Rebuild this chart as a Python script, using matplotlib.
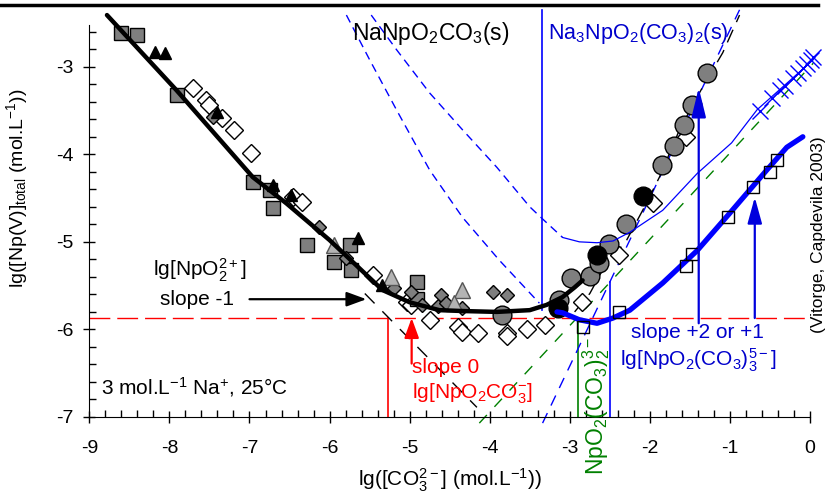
import matplotlib.pyplot as plt
from matplotlib.lines import Line2D
from matplotlib.ticker import MultipleLocator

plt.rcParams['font.family'] = ['Liberation Sans', 'DejaVu Sans']
plt.rcParams['mathtext.fontset'] = 'custom'
plt.rcParams['mathtext.rm'] = 'Liberation Sans'
plt.rcParams['mathtext.it'] = 'Liberation Sans:italic'
plt.rcParams['mathtext.bf'] = 'Liberation Sans:bold'
plt.rcParams['lines.scale_dashes'] = False
plt.rcParams['axes.unicode_minus'] = False

# --- experimental points, lg[CO3 2-] vs lg[Np(V)] ---
sq_gray_x = [-8.61, -8.40, -7.91, -6.95, -6.75, -6.71, -6.28, -5.94, -5.75, -5.73, -4.91, -4.91]
sq_gray_y = [-2.62, -2.64, -3.32, -4.32, -4.41, -4.61, -5.04, -5.23, -5.04, -5.32, -5.46, -5.65]

tri_black_x = [-8.18, -8.06, -7.40, -6.71, -6.48, -5.65, -5.34]
tri_black_y = [-2.83, -2.84, -3.52, -4.35, -4.47, -4.96, -5.49]

dia_white_x = [-7.71, -7.54, -7.51, -7.34, -7.19, -6.98, -6.46, -6.35, -5.46, -5.03, -4.98,
               -4.75, -4.40, -4.34, -4.15, -3.79, -3.78, -3.53, -3.31, -2.85, -2.38, -1.96, -1.55]
dia_white_y = [-3.24, -3.38, -3.44, -3.58, -3.72, -3.99, -4.49, -4.55, -5.38, -5.69, -5.72,
               -5.89, -5.97, -6.03, -6.04, -6.04, -6.07, -5.99, -5.95, -5.69, -5.15, -4.56, -3.80]

dia_gray_x = [-7.46, -6.13, -5.80, -5.19, -4.98, -4.84, -4.65, -4.61, -4.54, -4.34, -3.96, -3.79]
dia_gray_y = [-3.57, -4.83, -5.18, -5.53, -5.57, -5.72, -5.73, -5.61, -5.70, -5.76, -5.57, -5.61]

tri_light_x = [-5.94, -5.23, -4.35, -4.44]
tri_light_y = [-5.04, -5.40, -5.55, -5.70]

circ_gray_x = [-3.85, -3.13, -2.98, -2.75, -2.64, -2.51, -2.30, -1.85, -1.70, -1.58, -1.48, -1.29]
circ_gray_y = [-5.84, -5.66, -5.41, -5.39, -5.24, -5.02, -4.80, -4.12, -3.90, -3.67, -3.44, -3.07]

circ_black_x = [-3.15, -2.66, -2.08]
circ_black_y = [-5.75, -5.15, -4.48]

sq_white_x = [-2.84, -2.38, -1.55, -1.48, -1.03, -0.71, -0.50, -0.41]
sq_white_y = [-5.97, -5.80, -5.28, -5.14, -4.72, -4.37, -4.20, -4.07]

cross_x = [-0.63, -0.48, -0.38, -0.31, -0.21, -0.15, -0.09, -0.04, 0.01, 0.04]
cross_y = [-3.50, -3.36, -3.27, -3.22, -3.13, -3.07, -3.01, -2.97, -2.92, -2.89]

# --- model curves ---
fit_x = [-8.78, -7.91, -6.96, -6.54, -6.00, -5.34, -5.00, -4.63, -4.34, -3.91, -3.50, -3.29, -3.09, -2.94, -2.84]
fit_y = [-2.41, -3.27, -4.26, -4.56, -4.98, -5.55, -5.69, -5.78, -5.79, -5.80, -5.78, -5.72, -5.63, -5.52, -5.44]

slope_m1_x = [-5.56, -4.16]
slope_m1_y = [-5.59, -6.89]

fit_up_x = [-2.94, -2.75, -2.59, -2.29, -2.09, -1.88, -1.63, -1.34, -1.09, -0.88]
fit_up_y = [-5.80, -5.59, -5.32, -4.98, -4.64, -4.26, -3.72, -3.23, -2.84, -2.41]

na1_dash_x = [-5.48, -5.16, -4.75, -4.34, -3.91, -3.50, -3.35, -3.09]
na1_dash_y = [-2.41, -2.81, -3.30, -3.72, -4.15, -4.60, -4.73, -4.95]
na1_solid_x = [-3.09, -2.88, -2.66, -2.46, -2.25, -1.84, -1.41, -0.98, -0.66, -0.34, 0.04]
na1_solid_y = [-4.95, -5.00, -5.01, -4.99, -4.89, -4.64, -4.22, -3.87, -3.49, -3.23, -2.92]

na2_dash_x = [-5.79, -5.50, -5.16, -4.75, -4.34, -3.88, -3.38]
na2_dash_y = [-2.41, -2.92, -3.50, -4.18, -4.72, -5.21, -5.70]

na3_dash_x = [-3.34, -0.88]
na3_dash_y = [-7.07, -2.35]

green_x = [-4.13, 0.04]
green_y = [-7.07, -2.96]

tri_fit_x = [-3.16, -3.09, -2.88, -2.66, -2.46, -2.25, -1.84, -1.41, -1.00, -0.54, -0.29, -0.09]
tri_fit_y = [-5.80, -5.81, -5.89, -5.93, -5.87, -5.78, -5.47, -5.10, -4.67, -4.18, -3.92, -3.80]

solub_level = -5.87

fig = plt.figure(figsize=(8.28, 4.93), dpi=100)
ax = fig.add_axes([0.1079, 0.1542, 0.8704, 0.8348])
ax.set_xlim(-9, 0)
ax.set_ylim(-7, -2.30)

for s in ['top', 'right']:
    ax.spines[s].set_visible(False)
ax.spines['left'].set_bounds(-7, -2.52)
ax.spines['bottom'].set_bounds(-9, 0)

ax.set_xticks(range(-9, 1))
ax.xaxis.set_minor_locator(MultipleLocator(0.2))
ax.set_yticks([-7, -6, -5, -4, -3])
ax.set_yticks([-7 + 0.2 * i for i in range(23) if i % 5], minor=True)
ax.tick_params(which='major', direction='inout', length=9, width=1, labelsize=14)
ax.tick_params(which='minor', direction='in', length=5, width=1)
ax.tick_params(axis='x', which='major', pad=12)
ax.tick_params(axis='y', which='major', pad=7)

# reference lines
ax.axhline(solub_level, color='red', lw=1, dashes=(15, 5), zorder=1)
ax.plot([-5.275, -5.275], [-7, solub_level], color='red', lw=1.2)
ax.plot([-2.9, -2.9], [-7, solub_level], color='green', lw=1.2)
ax.plot([-3.35, -3.35], [-5.78, -2.35], color='blue', lw=1.2, clip_on=False)
ax.plot([-2.5, -2.5], [-7, -5.46], color='blue', lw=1.2)

ax.plot(green_x, green_y, color='green', lw=1, dashes=(8, 8), clip_on=False)
ax.plot(na2_dash_x, na2_dash_y, color='blue', lw=1, dashes=(6, 4), clip_on=False)
ax.plot(na1_dash_x, na1_dash_y, color='blue', lw=1, dashes=(6, 4), clip_on=False)
ax.plot(na3_dash_x, na3_dash_y, color='blue', lw=1, dashes=(8, 6), clip_on=False)
ax.plot(slope_m1_x, slope_m1_y, color='black', lw=1, dashes=(10, 8))
ax.plot(fit_up_x, fit_up_y, color='black', lw=1, dashes=(10, 6), clip_on=False)

# markers
mk = dict(ls='none', markeredgecolor='black', markeredgewidth=1, clip_on=False)
ax.plot(dia_white_x, dia_white_y, 'D', ms=9.5, markerfacecolor='white', **mk)
ax.plot(sq_gray_x, sq_gray_y, 's', ms=9.5, markerfacecolor='#7f7f7f', **mk)
ax.plot(dia_gray_x, dia_gray_y, 'D', ms=7.5, markerfacecolor='#7f7f7f', **mk)
ax.plot(tri_light_x, tri_light_y, '^', ms=11, markerfacecolor='#b4b4b4',
        ls='none', markeredgecolor='#555555', markeredgewidth=1)
ax.plot(tri_black_x, tri_black_y, '^', ms=9, markerfacecolor='black', **mk)

ax.plot(fit_x, fit_y, color='black', lw=3.2, solid_capstyle='round', clip_on=False, zorder=3)

ax.plot(circ_gray_x, circ_gray_y, 'o', ms=13.5, markerfacecolor='#7f7f7f', **mk)
ax.plot(circ_black_x, circ_black_y, 'o', ms=13.5, markerfacecolor='black', **mk)

ax.plot(na1_solid_x, na1_solid_y, color='blue', lw=0.9, clip_on=False, zorder=4)
ax.plot(cross_x, cross_y, 'x', ms=11, color='blue', mew=1, ls='none', clip_on=False, zorder=4)
ax.plot(tri_fit_x, tri_fit_y, color='blue', lw=3.8, solid_capstyle='round', clip_on=False, zorder=4)
ax.plot(sq_white_x, sq_white_y, 's', ms=9, markerfacecolor='none', zorder=5, **mk)

# arrows
def arrow(x0, y0, x1, y1, color, hl=0.6):
    ax.annotate('', xy=(x1, y1), xytext=(x0, y0),
                arrowprops=dict(arrowstyle='-|>,head_length=%s,head_width=0.22' % hl,
                                color=color, lw=1.6, mutation_scale=20,
                                shrinkA=0, shrinkB=0), zorder=6)

arrow(-7.0, -5.655, -5.54, -5.655, 'black')
arrow(-4.975, -6.39, -4.975, solub_level, 'red')
arrow(-1.39, -5.93, -1.39, -3.24, '#0000dd', hl=0.9)
arrow(-0.69, solub_level, -0.69, -4.49, '#0000dd', hl=0.8)

# labels
fs = 15
ax.text(-5.725, -2.615, r'NaNpO$_2$CO$_3$(s)', fontsize=16.5, va='center', ha='left')
ax.text(-3.275, -2.615, r'Na$_3$NpO$_2$(CO$_3$)$_2$(s)', fontsize=15.5, va='center',
        ha='left', color='#0000cc')
ax.text(-7.625, -5.32, r'lg[NpO$_2^{2+}$]', fontsize=fs, ha='center', va='center')
ax.text(-7.65, -5.655, 'slope -1', fontsize=fs, ha='center', va='center')
ax.text(-8.85, -6.66, r'3 mol.L$^{-1}$ Na$^{+}$, 25°C', fontsize=fs, ha='left', va='center')
ax.text(-4.975, -6.44, 'slope 0', fontsize=fs, ha='left', va='center', color='red')
ax.text(-4.975, -6.73, r'lg[NpO$_2$CO$_3^{-}$]', fontsize=fs, ha='left', va='center', color='red')
ax.text(-1.41, -6.03, 'slope +2 or +1', fontsize=fs, ha='center', va='center', color='#0000cc')
ax.text(-1.40, -6.35, r'lg[NpO$_2$(CO$_3$)$_3^{5-}$]', fontsize=fs, ha='center', va='center',
        color='#0000cc')
ax.text(-2.875, -6.87, r'NpO$_2$(CO$_3$)$_2^{3-}$', fontsize=16.5, ha='left', va='center',
        rotation=90, color='green')
ax.text(0.1, -4.92, '(Vitorge, Capdevila 2003)', fontsize=12.5, ha='center', va='center',
        rotation=90)

ax.set_xlabel(r'lg([CO$_3^{2-}$] (mol.L$^{-1}$))', fontsize=15, labelpad=7)
ax.set_ylabel(r'lg([Np(V)]$_{\rm total}$ (mol.L$^{-1}$))', fontsize=14)
ax.yaxis.set_label_coords(-0.082, 0.556)

# page rule at the top
fig.add_artist(Line2D([0, 818 / 828], [1 - 5 / 493, 1 - 5 / 493], color='black', lw=2.5))

fig.savefig('out.png', dpi=100)
